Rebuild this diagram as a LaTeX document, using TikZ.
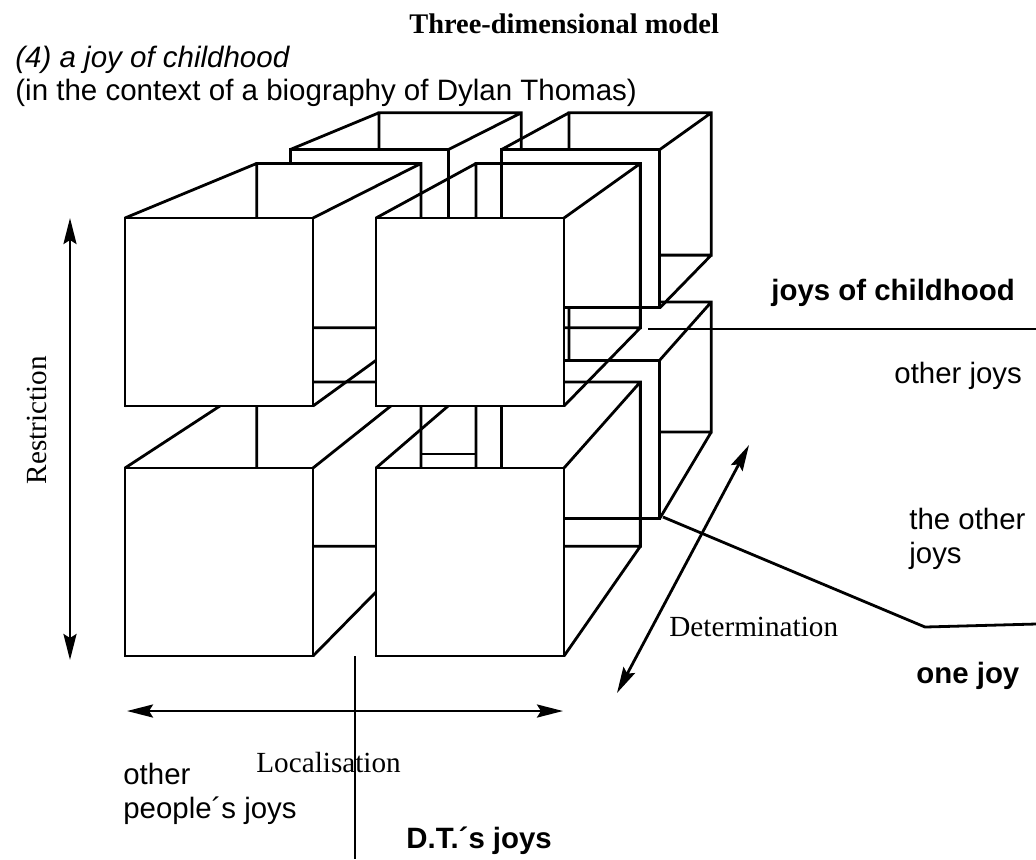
\documentclass[tikz,border=0pt]{standalone}
\usepackage{fontspec}
\setmainfont{Liberation Serif}
\setsansfont{Liberation Sans}
\usetikzlibrary{positioning,arrows.meta}

% corner points of one box in the perspective view: name, X, Y, front scale, back scale
\newcommand{\boxpts}[5]{%
  \foreach \cn/\dx/\dy in {a/0/0,b/188/0,c/188/188,d/0/188}{%
    \coordinate (#1f\cn) at ({1170+(#2+\dx-1170)*#4},{-215+(#3+\dy+215)*#4});
    \coordinate (#1b\cn) at ({1170+(#2+\dx-1170)*#5},{-215+(#3+\dy+215)*#5});
  }%
}
% wire box with a white front face
\newcommand{\wirebox}[1]{%
  \draw (#1ba) -- (#1bb) -- (#1bc) -- (#1bd) -- cycle
        (#1fa) -- (#1ba) (#1fb) -- (#1bb) (#1fc) -- (#1bc) (#1fd) -- (#1bd);
  \draw[fill=white] (#1fa) -- (#1fb) -- (#1fc) -- (#1fd) -- cycle;
}

\begin{document}
\begin{tikzpicture}[x=0.5pt,y=-0.5pt,line width=1.4pt,
  every node/.style={inner sep=0pt},
  sanslab/.style={font=\fontsize{14.7}{17}\selectfont\sffamily,align=left},
  boldlab/.style={font=\fontsize{14.7}{17}\selectfont\sffamily\bfseries},
  seriflab/.style={font=\fontsize{14.6}{17}\selectfont},
  twoway/.style={{Stealth[length=13pt,width=6.5pt,inset=2pt]}-{Stealth[length=13pt,width=6.5pt,inset=2pt]}}]
\useasboundingbox (0,0) rectangle (1036,859);

% back layer and front layer of boxes
\boxpts{bbl}{125}{468}{0.842}{0.757}
\boxpts{bbr}{376}{468}{0.842}{0.757}
\boxpts{btl}{125}{218}{0.842}{0.757}
\boxpts{btr}{376}{218}{0.842}{0.757}
\boxpts{bl}{125}{468}{1}{0.874}
\boxpts{br}{376}{468}{1}{0.874}
\boxpts{tl}{125}{218}{1}{0.874}
\boxpts{tr}{376}{218}{1}{0.874}
\coordinate (bbrbc) at (bbrbc |- 0,432);
\coordinate (bbrbd) at (bbrbd |- 0,432);

\wirebox{bbl}
\wirebox{bbr}
\wirebox{btl}
\wirebox{btr}

% left boxes hide the back layer
\fill[white] (tlfa) -- (tlba) -- (tlbb) -- (tlbc) -- (tlfc) -- (tlfb) -- cycle;
\fill[white] (blfa) -- (blba) -- (blbb) -- (blbc) -- (blfc) -- (blfb) -- cycle;
\fill[white] (brfa) -- (brba) -- (brbb) -- (brfb) -- cycle;

\wirebox{bl}
\wirebox{br}
\wirebox{tl}
\wirebox{tr}

\draw (bbrfa |- trfd) -- (bbrfa |- brfa);
\draw (blbb |- 0,454) -- (brba |- 0,454);

% headings
\node[anchor=base west,font=\fontsize{14.2}{17}\selectfont\bfseries] (title) at (408,33) {Three-dimensional model};
\node[anchor=base west,font=\fontsize{14.75}{17}\selectfont\sffamily\itshape] (case) at (14,67) {(4) a joy of childhood};
\node[anchor=base west,font=\fontsize{14.75}{17}\selectfont\sffamily] (context) at (14,100) {(in the context of a biography of Dylan Thomas)};

% axes
\coordinate (rtop) at (70,218);
\coordinate (rbot) at (70,660);
\draw[twoway] (rtop) -- (rbot);
\node[rotate=90,seriflab] (restr) at (37,420) {Restriction};

\coordinate (lleft) at (127,711);
\coordinate (lright) at (563,711);
\draw[twoway] (lleft) -- (lright);
\node[anchor=base west,seriflab] (local) at (255,772) {Localisation};
\coordinate (split) at (355,656);
\coordinate (splitend) at (355,859);
\draw (split) -- (splitend);

\coordinate (dnear) at (617,693);
\coordinate (dfar) at (749,445);
\draw[twoway] (dnear) -- (dfar);
\node[anchor=base west,seriflab] (determ) at (668,636) {Determination};

% labels at the right
\coordinate (jcstart) at (648,329);
\coordinate (jcend) at (1036,329);
\draw (jcstart) -- (jcend);
\node[anchor=base west,boldlab] (childjoys) at (770,300) {joys of childhood};
\node[anchor=base west,sanslab] (otherjoys) at (893,383) {other joys};

\coordinate (ojstart) at (663,517);
\coordinate (ojbend) at (925,627);
\coordinate (ojend) at (1036,624);
\draw (ojstart) -- (ojbend) -- (ojend);
\node[anchor=base west,sanslab] (theother) at (908,563) {the other\\joys};
\node[anchor=base west,boldlab] (onejoy) at (915,683) {one joy};

% labels at the bottom
\node[anchor=base west,sanslab] (otherpeople) at (122,818) {other\\people´s joys};
\node[anchor=base west,boldlab] (dtjoys) at (405,848) {D.T.´s joys};
\end{tikzpicture}
\end{document}
